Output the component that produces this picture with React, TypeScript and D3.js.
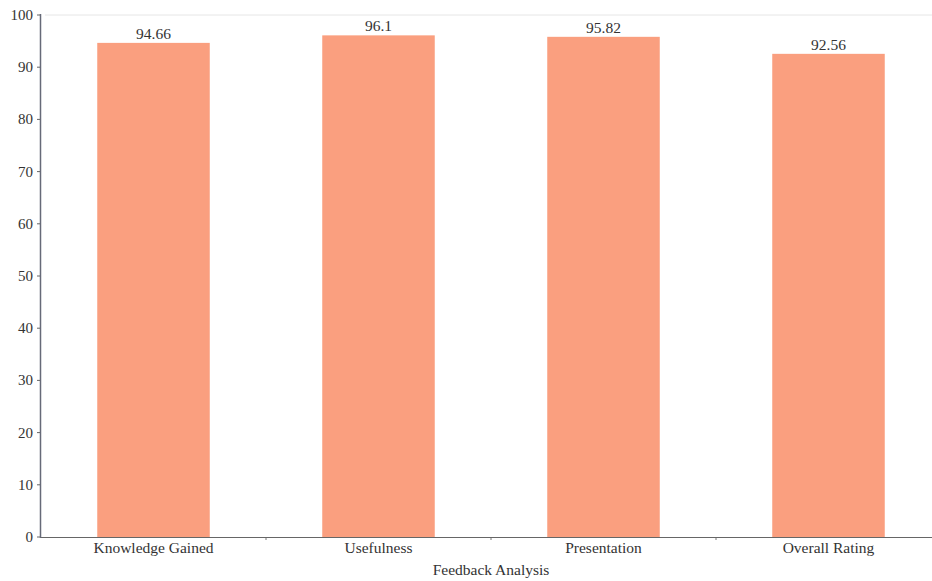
import React from "react";
import * as d3 from "d3";

const categories = ["Knowledge Gained", "Usefulness", "Presentation", "Overall Rating"];
const values = [94.66, 96.1, 95.82, 92.56];
const yTicks = [0, 10, 20, 30, 40, 50, 60, 70, 80, 90, 100];
const xTitle = "Feedback Analysis";

export default function App() {
  const W = 932, H = 581;
  const x = d3.scaleBand<string>().domain(categories).range([41, 941]).paddingInner(0.5).paddingOuter(0.25);
  const xb = d3.scaleBand<string>().domain(categories).range([41, 941]);
  const y = d3.scaleLinear().domain([0, 100]).range([537, 15]);
  const font = "'Liberation Serif', 'DejaVu Serif', serif";
  return (
    <svg width={W} height={H} style={{ position: "absolute", left: 0, top: 0, background: "#fff" }}>
      <line x1={45} x2={932} y1={y(100)} y2={y(100)} stroke="#e6e6e6" strokeWidth={1} />
      {categories.map((c, i) => (
        <g key={c}>
          <rect x={x(c)} y={y(values[i])} width={x.bandwidth()} height={y(0) - y(values[i])} fill="#FA9F7F" />
          <text x={x(c)! + x.bandwidth() / 2} y={y(values[i]) - 4} textAnchor="middle" fontFamily={font} fontSize={15.5} fill="#333">
            {values[i]}
          </text>
          <text x={xb(c)! + xb.bandwidth() / 2} y={553} textAnchor="middle" fontFamily={font} fontSize={15.5} fill="#333">
            {c}
          </text>
        </g>
      ))}
      {categories.slice(1).map((c) => (
        <line key={c} x1={xb(c)} x2={xb(c)} y1={537} y2={540} stroke="#777" />
      ))}
      <line x1={40} x2={932} y1={537.5} y2={537.5} stroke="#666" strokeWidth={1.2} />
      <line x1={40.5} x2={40.5} y1={14} y2={538} stroke="#666a78" strokeWidth={1.5} />
      {yTicks.map((t) => (
        <g key={t}>
          <line x1={37} x2={40} y1={y(t)} y2={y(t)} stroke="#666" />
          <text x={33} y={y(t) + 5} textAnchor="end" fontFamily={font} fontSize={15} fill="#333">
            {t}
          </text>
        </g>
      ))}
      <text x={491} y={575} textAnchor="middle" fontFamily={font} fontSize={15.5} fill="#333">
        {xTitle}
      </text>
    </svg>
  );
}
